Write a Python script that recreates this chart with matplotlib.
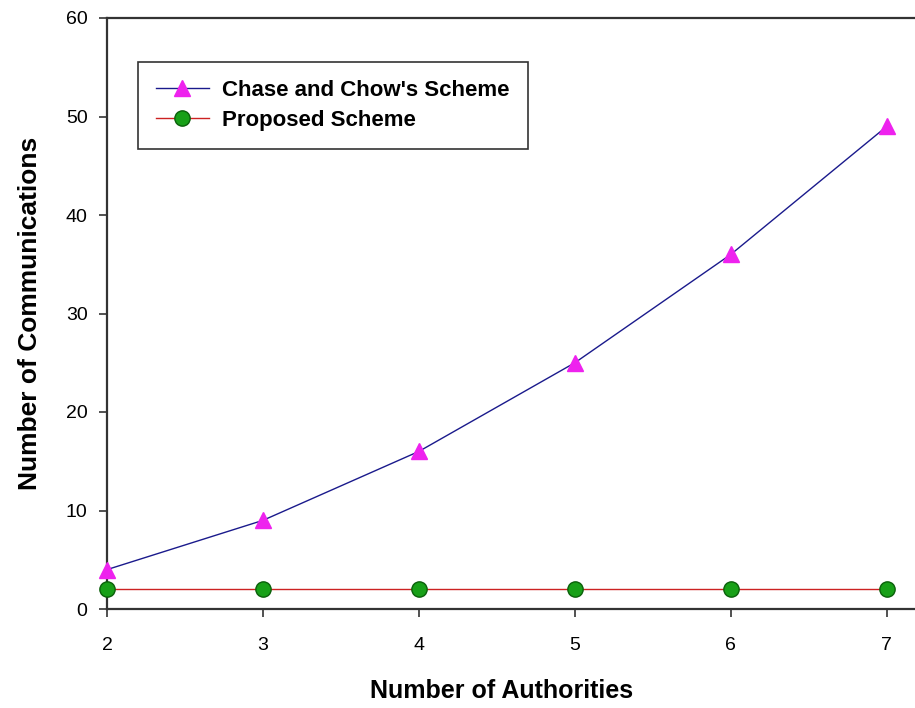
import matplotlib
matplotlib.use("Agg")
import matplotlib.pyplot as plt

# data
authorities = [2, 3, 4, 5, 6, 7]
chase_chow = [4, 9, 16, 25, 36, 49]
proposed = [2, 2, 2, 2, 2, 2]

plt.rcParams['font.family'] = ['Liberation Sans', 'DejaVu Sans']

fig = plt.figure(figsize=(9.15, 7.08), dpi=100)
# axes run past the right edge of the picture, like the cropped original
ax = fig.add_axes([107 / 915, 99 / 708, 1 - 107 / 915 + 0.01, 591 / 708])

ax.plot(authorities, chase_chow, color='#1a1a8c', linewidth=1.0,
        marker='^', markersize=11, markerfacecolor='#ee22ee',
        markeredgecolor='#ee22ee', label="Chase and Chow's Scheme",
        clip_on=False, zorder=3)
ax.plot(authorities, proposed, color='#cc2222', linewidth=1.0,
        marker='o', markersize=11, markerfacecolor='#18a018',
        markeredgecolor='#0a600a', label='Proposed Scheme',
        clip_on=False, zorder=3)

ax.set_xlim(2, 2 + (915 - 107) / 156 + 0.06)
ax.set_ylim(0, 60)
ax.set_xticks(authorities)
ax.set_yticks(range(0, 61, 10))
ax.tick_params(direction='out', length=6, width=1.2, labelsize=14,
               color='#333333')
ax.tick_params(axis='x', pad=14)
ax.tick_params(axis='y', pad=8)

for side in ['left', 'bottom', 'top']:
    ax.spines[side].set_linewidth(1.6)
    ax.spines[side].set_color('#333333')
ax.spines['right'].set_visible(False)

ax.set_xlabel('Number of Authorities', fontsize=18, fontweight='bold')
ax.set_ylabel('Number of Communications', fontsize=19, fontweight='bold')
ax.xaxis.set_label_coords(0.483, -0.118)
ax.yaxis.set_label_coords(-0.08, 0.5)

leg = ax.legend(loc='upper left', bbox_to_anchor=(0.038, 0.925), fancybox=False,
                edgecolor='#333333', framealpha=1, handlelength=2.4,
                prop={'weight': 'bold', 'size': 16}, borderpad=0.8,
                labelspacing=0.4, handletextpad=0.6, borderaxespad=0)
leg.get_frame().set_linewidth(1.2)

plt.savefig('out.png', dpi=100)
